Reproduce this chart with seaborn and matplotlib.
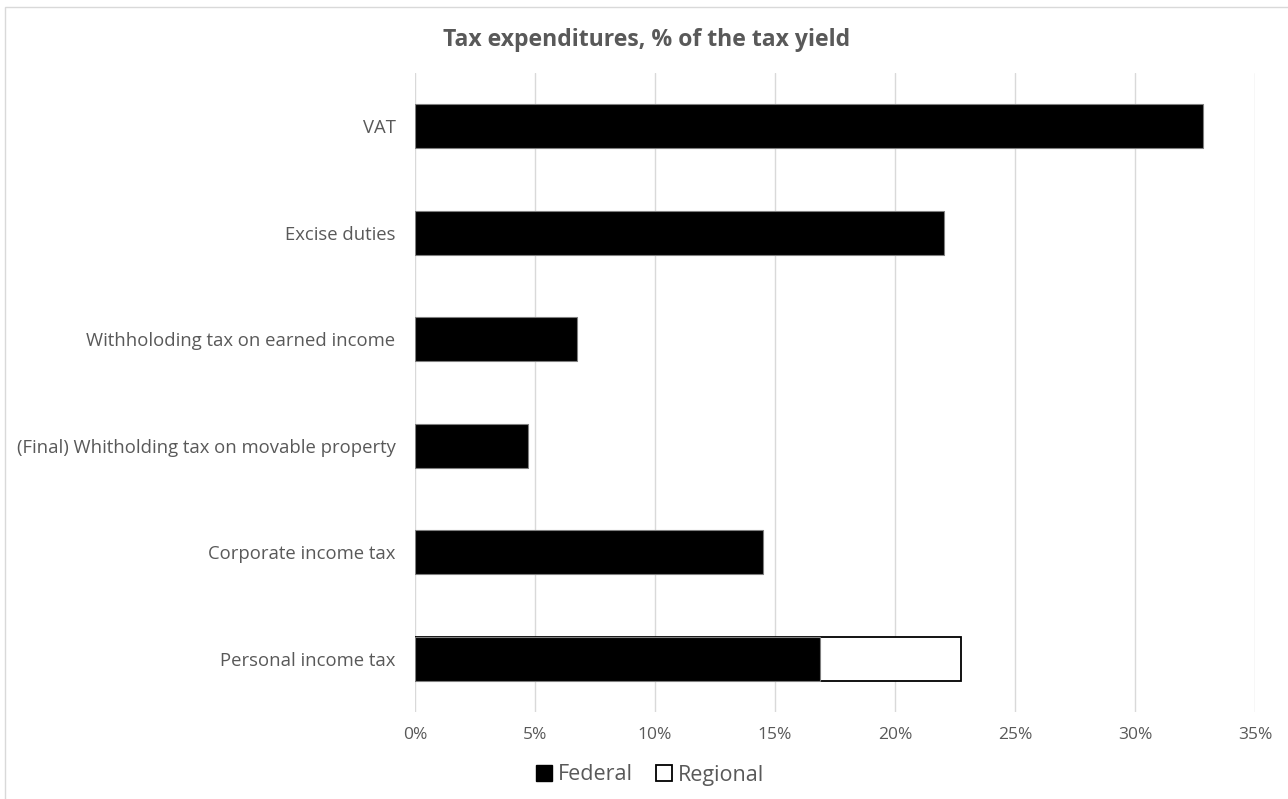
import seaborn as sns
import matplotlib.pyplot as plt
import pandas as pd
from matplotlib.patches import Patch, Rectangle
from matplotlib.ticker import PercentFormatter

# Data (% of the tax yield)
categories = ['VAT', 'Excise duties', 'Withholoding tax on earned income',
              '(Final) Whitholding tax on movable property',
              'Corporate income tax', 'Personal income tax']
federal = [32.82, 22.05, 6.73, 4.72, 14.48, 16.88]
regional = [0, 0, 0, 0, 0, 5.87]
x_ticks = [0, 5, 10, 15, 20, 25, 30, 35]

df = pd.DataFrame({'Tax': categories, 'Federal': federal, 'Regional': regional})
df['Total'] = df['Federal'] + df['Regional']
stacked = df[df['Regional'] > 0]

sns.set_style('white')
plt.rcParams['font.family'] = ['Open Sans', 'DejaVu Sans']
grey = '#595959'

fig = plt.figure(figsize=(12.88, 7.99), dpi=100)
ax = fig.add_axes([415 / 1288, 1 - 712 / 799, 840 / 1288, 639 / 799])

# stacked bars: total first (white = regional part), federal on top
sns.barplot(data=stacked, x='Total', y='Tax', order=categories, color='white',
            edgecolor='black', linewidth=1.3, width=0.41, ax=ax, zorder=2)
sns.barplot(data=df, x='Federal', y='Tax', order=categories, color='black',
            saturation=1, edgecolor='#7f7f7f', linewidth=0.8, width=0.41, ax=ax, zorder=3)

ax.set_xlim(0, 35)
ax.set_ylim(5.5, -0.5)
ax.set_xticks(x_ticks)
ax.xaxis.set_major_formatter(PercentFormatter(decimals=0))
ax.grid(axis='x', color='#d9d9d9', linewidth=1)
ax.set_axisbelow(True)
sns.despine(ax=ax, left=True, bottom=True)
ax.set_xlabel('')
ax.set_ylabel('')
ax.tick_params(axis='x', colors=grey, labelsize=12.5, length=0, pad=11)
ax.tick_params(axis='y', colors=grey, labelsize=13.3, length=0, pad=14)

fig.suptitle('Tax expenditures, % of the tax yield', x=647 / 1288, y=1 - 40 / 799,
             va='center', fontsize=16.6, fontweight='bold', color=grey)

handles = [Patch(facecolor='black', edgecolor='black', label='Federal'),
           Patch(facecolor='white', edgecolor='black', linewidth=1.3, label='Regional')]
fig.legend(handles=handles, loc='center', bbox_to_anchor=(650 / 1288, 1 - 775 / 799),
           ncol=2, frameon=False, fontsize=15.5, labelcolor=grey, handlelength=0.75,
           handleheight=0.75, handletextpad=0.25, columnspacing=1.1)

# chart area border
fig.patches.append(Rectangle((5 / 1288, -0.01), 1.1, 1 - 7 / 799 + 0.01,
                             transform=fig.transFigure, fill=False,
                             edgecolor='#d9d9d9', linewidth=1))

plt.savefig('out.png', dpi=100)
